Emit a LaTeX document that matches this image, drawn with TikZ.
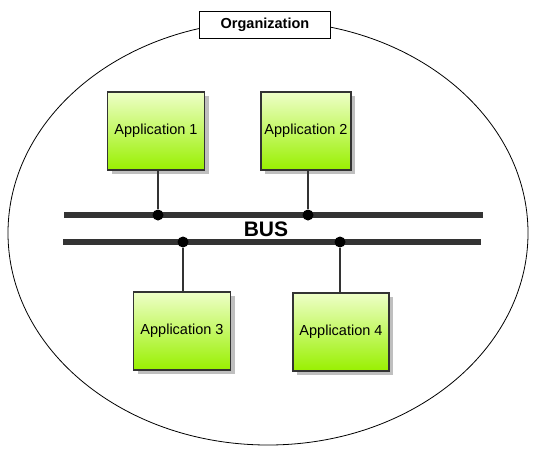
\documentclass[tikz,border=0pt]{standalone}
\usepackage{fontspec}
\setmainfont{Liberation Sans}
\usetikzlibrary{positioning, shadows, calc}
\definecolor{appTop}{HTML}{EEFFC8}
\definecolor{appBot}{HTML}{99F000}
\definecolor{busLine}{HTML}{333333}

\begin{document}
\begin{tikzpicture}[
    x=1pt, y=-1pt,
    app/.style={rectangle, draw=busLine, line width=1.3pt, top color=appTop,
                bottom color=appBot, minimum width=#1, minimum height=78pt,
                font=\fontsize{14.5}{17}\selectfont, align=center,
                drop shadow={shadow xshift=4pt, shadow yshift=-4pt,
                             fill=black!25, opacity=1}},
    bus/.style={line width=5.5pt, busLine},
    tap/.style={circle, fill=black, inner sep=0pt, minimum size=11pt},
    link/.style={line width=1.3pt, busLine}
  ]
    \useasboundingbox (0,0) rectangle (534,455);
    % boundary of the organization
    \draw[line width=0.8pt] (268,233) ellipse [x radius=260, y radius=212];
    \node[draw, line width=0.9pt, fill=white, minimum width=131pt,
          minimum height=27pt, font=\bfseries\fontsize{14.5}{17}\selectfont]
          (org) at (265,25) {Organization};

    % applications
    \node[app=97pt] (a1) at (156,131) {Application 1};
    \node[app=90pt] (a2) at (306,131) {Application 2};
    \node[app=97pt] (a3) at (182,331) {Application 3};
    \node[app=96pt] (a4) at (341,332) {Application 4};

    % the two bus lines
    \coordinate (b1w) at (64,215);
    \coordinate (b1e) at (483,215);
    \coordinate (b2w) at (63,242);
    \coordinate (b2e) at (481,242);
    \draw[bus] (b1w) -- (b1e);
    \draw[bus] (b2w) -- (b2e);
    \node[font=\bfseries\fontsize{21}{24}\selectfont] (busLabel) at (266,229) {BUS};

    \node[tap] (t1) at (158,215) {};
    \node[tap] (t2) at (308,215) {};
    \node[tap] (t3) at (183,242) {};
    \node[tap] (t4) at (340,242) {};

    \draw[link] (a1.south -| t1) -- (t1);
    \draw[link] (a2.south -| t2) -- (t2);
    \draw[link] (a3.north -| t3) -- (t3);
    \draw[link] (a4.north -| t4) -- (t4);
  \end{tikzpicture}
\end{document}
